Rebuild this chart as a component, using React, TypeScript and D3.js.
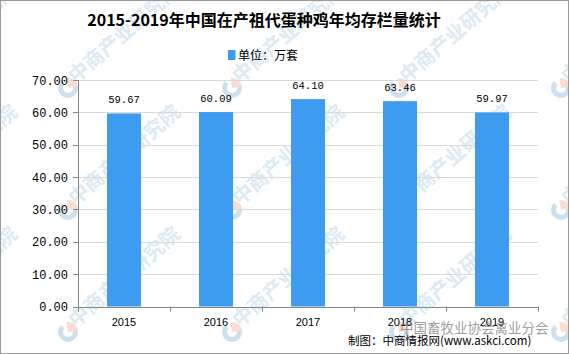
import React from "react";
import * as d3 from "d3";

// 数据
const years = ["2015", "2016", "2017", "2018", "2019"];
const stock = [59.67, 60.09, 64.1, 63.46, 59.97];
const yTickValues = [0, 10, 20, 30, 40, 50, 60, 70];

const title = "2015-2019年中国在产祖代蛋种鸡年均存栏量统计";
const legendLabel = "单位：万套";
const sourceLabel = "制图：中商情报网(www.askci.com)";
const markLabel = "中国畜牧业协会禽业分会";
const watermark = "中商产业研究院";

const W = 569;
const H = 354;
const BAR = "#3d9cf0";

function Logo({ x, y }: { x: number; y: number }) {
  const r = 10;
  const arcBlue = d3.arc()({ innerRadius: 5, outerRadius: r, startAngle: Math.PI * 0.25, endAngle: Math.PI * 1.75 }) as string;
  const arcOrange = d3.arc()({ innerRadius: 0, outerRadius: r, startAngle: -Math.PI * 0.05, endAngle: Math.PI * 0.45 }) as string;
  return (
    <g transform={`translate(${x},${y})`} opacity={0.35}>
      <path d={arcBlue} fill="#6fa8d0" />
      <path d={arcOrange} fill="#f0a080" />
    </g>
  );
}

export default function App() {
  const left = 78, right = 538, top = 80, bottom = 306.5;

  const x = d3.scaleBand().domain(years).range([left, right]).padding(0);
  const y = d3.scaleLinear().domain([0, 70]).range([bottom, top]);
  const barW = x.bandwidth() * 0.37;

  // 水印网格
  const wmX = [-95, 68, 232, 399, 561];
  const wmY = [88, 210, 332];

  return (
    <svg width={W} height={H} style={{ position: "absolute", left: 0, top: 0, background: "#fff" }}>
      {/* 水印 */}
      <g>
        {wmX.map((wx) =>
          wmY.map((wy) => (
            <g key={`${wx}-${wy}`}>
              <Logo x={wx} y={wy} />
              <text
                x={0}
                y={0}
                transform={`translate(${wx + 8},${wy - 4}) rotate(-41)`}
                fontFamily="Noto Sans CJK SC"
                fontWeight={700}
                fontSize={20}
                fill="#a9cbe3"
                opacity={0.4}
              >
                {watermark}
              </text>
            </g>
          ))
        )}
      </g>

      {/* 标题 */}
      <text x={264} y={26} textAnchor="middle" fontFamily="Noto Sans CJK SC" fontWeight={700} fontSize={16} fill="#000">
        {title}
      </text>

      {/* 图例 */}
      <rect x={228} y={50} width={7.5} height={10} fill={BAR} />
      <text x={238} y={59.5} fontFamily="Noto Sans CJK SC" fontSize={12} fill="#000">
        {legendLabel}
      </text>

      {/* 网格线 */}
      {yTickValues.filter((t) => t > 0).map((t) => (
        <line key={t} x1={left} x2={right} y1={Math.round(y(t)) + 0.5} y2={Math.round(y(t)) + 0.5} stroke="#d9d9d9" />
      ))}

      {/* 柱 */}
      {years.map((yr, i) => (
        <rect
          key={yr}
          x={(x(yr) as number) + (x.bandwidth() - barW) / 2}
          y={y(stock[i])}
          width={barW}
          height={bottom - y(stock[i])}
          fill={BAR}
        />
      ))}

      {/* 数值标签 */}
      {years.map((yr, i) => (
        <text
          key={yr}
          x={(x(yr) as number) + x.bandwidth() / 2}
          y={y(stock[i]) - 10}
          textAnchor="middle"
          fontFamily="Liberation Mono"
          fontSize={10.5}
          fill="#000"
        >
          {stock[i].toFixed(2)}
        </text>
      ))}

      {/* Y 轴 */}
      <line x1={left + 0.5} x2={left + 0.5} y1={top} y2={bottom + 5} stroke="#868686" />
      {yTickValues.map((t) => (
        <g key={t}>
          <line x1={left - 5} x2={left} y1={Math.round(y(t)) + 0.5} y2={Math.round(y(t)) + 0.5} stroke="#868686" />
          <text x={68} y={y(t) + 4.5} textAnchor="end" fontFamily="Liberation Mono" fontSize={12} fill="#000">
            {t.toFixed(2)}
          </text>
        </g>
      ))}

      {/* X 轴 */}
      <line x1={left} x2={right} y1={Math.round(bottom) + 0.5} y2={Math.round(bottom) + 0.5} stroke="#868686" />
      {[...years.map((yr) => x(yr) as number), right].map((tx, i) => (
        <line key={i} x1={Math.round(tx) + 0.5} x2={Math.round(tx) + 0.5} y1={bottom} y2={bottom + 5} stroke="#868686" />
      ))}
      {years.map((yr) => (
        <text
          key={yr}
          x={(x(yr) as number) + x.bandwidth() / 2}
          y={326}
          textAnchor="middle"
          fontFamily="Liberation Sans"
          fontSize={11}
          fill="#000"
        >
          {yr}
        </text>
      ))}

      {/* 来源 */}
      <text x={400} y={333} fontFamily="Noto Sans CJK SC" fontSize={13.5} fill="#777" opacity={0.7}>
        {markLabel}
      </text>
      <text x={348} y={345} fontFamily="Noto Sans CJK SC" fontSize={11.5} fill="#000">
        {sourceLabel}
      </text>

      {/* 边框 */}
      <rect x={0.5} y={0.5} width={W - 1} height={H - 1} fill="none" stroke="#9a9a9a" />
    </svg>
  );
}
